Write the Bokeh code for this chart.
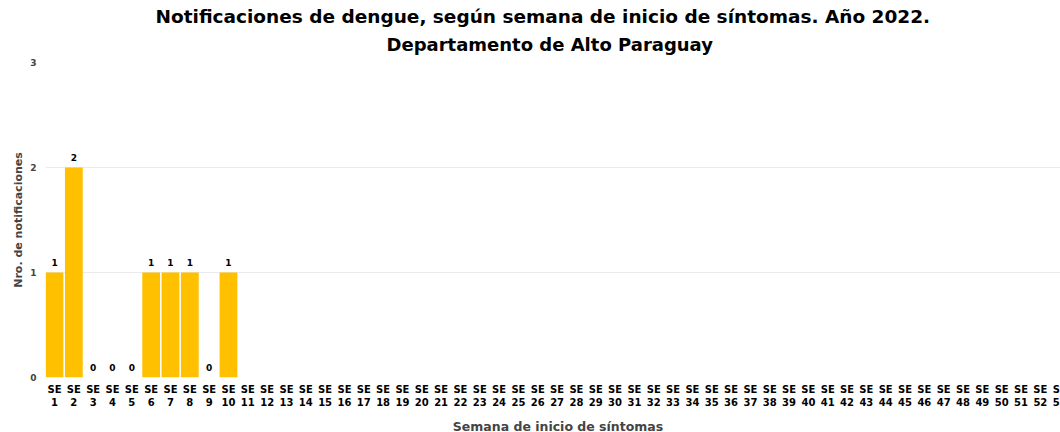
from bokeh.plotting import figure
from bokeh.models import Range1d, LinearAxis, FixedTicker, Title, ColumnDataSource, Spacer
from bokeh.layouts import row, column
from bokeh.core.properties import value
from bokeh.embed import file_html
from bokeh.resources import INLINE

title_line1 = "Notificaciones de dengue, según semana de inicio de síntomas. Año 2022."
title_line2 = "Departamento de Alto Paraguay"
x_label = "Semana de inicio de síntomas"
y_label = "Nro. de notificaciones"

weeks_all = list(range(1, 54))
data_weeks = [1, 2, 3, 4, 5, 6, 7, 8, 9, 10]
counts = [1, 2, 0, 0, 0, 1, 1, 1, 0, 1]
y_ticks = [0, 1, 2, 3]

FONT = "DejaVu Sans"
BAR = "#FFC000"

p = figure(width=1061, height=430, output_backend="svg", toolbar_location=None,
           x_axis_type=None, x_range=Range1d(0.534, 53.56), y_range=Range1d(0, 3),
           min_border_left=0, min_border_right=0, min_border_top=0, min_border_bottom=0)
p.outline_line_color = None
p.xgrid.visible = False
p.ygrid.grid_line_color = "#ebebeb"
p.ygrid.ticker = FixedTicker(ticks=y_ticks)

t2 = Title(text=title_line2, align="left", offset=341, text_font=FONT, text_font_size="18px",
           text_font_style="bold", text_color="#000000", standoff=15)
t1 = Title(text=title_line1, align="left", offset=110, text_font=FONT, text_font_size="18.5px",
           text_font_style="bold", text_color="#000000", standoff=-5)
p.title = None
p.add_layout(t2, "above")
p.add_layout(t1, "above")

src = ColumnDataSource(dict(x=data_weeks, top=counts, lbl=[str(c) for c in counts]))
p.vbar(x="x", top="top", bottom=0, width=0.92, source=src, fill_color=BAR, line_color=None)
p.text(x="x", y="top", text="lbl", source=src, text_align="center", text_baseline="bottom",
       y_offset=-7, text_font=value(FONT), text_font_size="9px", text_font_style="bold",
       text_color="#000000")

ya = p.yaxis[0]
ya.ticker = FixedTicker(ticks=y_ticks)
ya.axis_line_color = None
ya.major_tick_line_color = None
ya.minor_tick_line_color = None
ya.major_tick_out = 0
ya.major_label_text_font = FONT
ya.major_label_text_font_size = "9px"
ya.major_label_text_font_style = "bold"
ya.major_label_standoff = 9
ya.axis_label = y_label
ya.axis_label_text_font = FONT
ya.axis_label_text_font_size = "11px"
ya.axis_label_text_font_style = "bold"
ya.axis_label_standoff = 2

ax_se = LinearAxis(ticker=FixedTicker(ticks=weeks_all),
                   major_label_overrides={w: "SE" for w in weeks_all})
ax_num = LinearAxis(ticker=FixedTicker(ticks=weeks_all), axis_label=x_label)
for ax in (ax_se, ax_num):
    ax.axis_line_color = None
    ax.major_tick_line_color = None
    ax.minor_tick_line_color = None
    ax.major_tick_out = 0
    ax.major_label_text_font = FONT
    ax.major_label_text_font_size = "10px"
    ax.major_label_text_font_style = "bold"
    ax.major_label_text_color = "#000000"
ax_se.major_label_standoff = 6
ax_num.major_label_standoff = 0
ax_num.axis_label_text_font = FONT
ax_num.axis_label_text_font_size = "12.5px"
ax_num.axis_label_text_font_style = "bold"
ax_num.axis_label_standoff = 10
p.add_layout(ax_se, "below")
p.add_layout(ax_num, "below")

layout = column(Spacer(height=6), row(Spacer(width=9), p))
open("out.html", "w").write(file_html(layout, INLINE))
